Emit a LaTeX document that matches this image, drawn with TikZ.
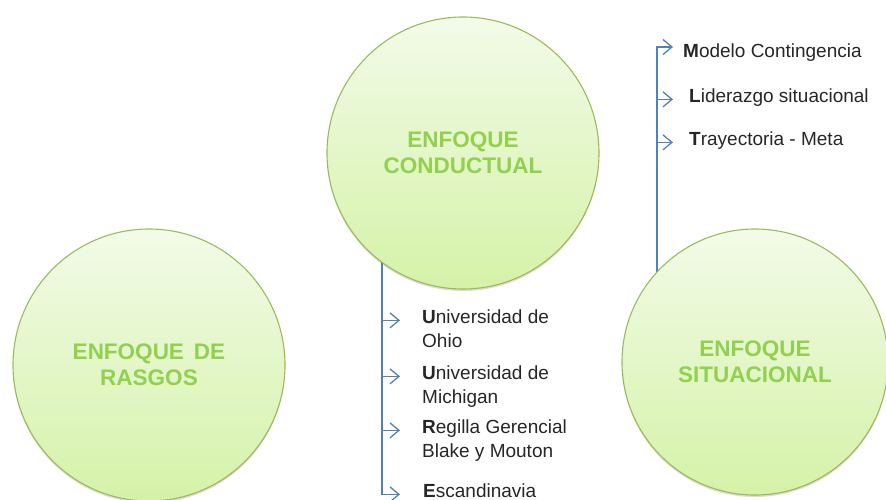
\documentclass[tikz,border=0pt]{standalone}
\usepackage{fontspec}
\setmainfont{Liberation Sans}
\usetikzlibrary{positioning, arrows.meta, shadows, backgrounds}
\definecolor{leafline}{RGB}{155,187,89}
\definecolor{leaftop}{RGB}{242,251,232}
\definecolor{leafbot}{RGB}{213,242,168}
\definecolor{leaftext}{RGB}{146,208,80}
\definecolor{linkblue}{RGB}{79,129,189}
\newcommand{\twolines}[2]{\begin{tabular}[t]{@{}l@{}}#1\\#2\end{tabular}}

\begin{document}
\begin{tikzpicture}[x=1pt, y=-1pt]
        \tikzstyle{enfoque} = [circle, minimum size=272pt, draw=leafline, line width=1.1pt, top color=leaftop, bottom color=leafbot, text=leaftext, font=\fontsize{22.5}{26}\selectfont\bfseries, align=center, drop shadow={shadow xshift=0pt, shadow yshift=-2pt, opacity=0.2, fill=black!70}]
        \tikzstyle{item} = [anchor=base west, inner sep=0pt, text=black!85, font=\fontsize{19}{24}\selectfont]
        \tikzstyle{link} = [draw=linkblue, line width=1.3pt]
        \tikzstyle{arrow} = [link, -{Straight Barb[length=9pt, width=15pt, line width=1.3pt]}]

        \useasboundingbox (0,0) rectangle (886,499);
        \clip (0,0) rectangle (886,499);

        % the three approaches
        \node (ras) [enfoque] at (149,365) {ENFOQUE\, DE\\RASGOS};
        \node (con) [enfoque] at (463,153) {ENFOQUE\\CONDUCTUAL};
        \node (sit) [enfoque, minimum size=266pt] at (755,362) {ENFOQUE\\SITUACIONAL};

        % studies of the behavioural approach
        \node (ohio) [item] at (422,323) {\twolines{\textbf{U}niversidad de}{Ohio}};
        \node (mich) [item] at (422,379) {\twolines{\textbf{U}niversidad de}{Michigan}};
        \node (reji) [item] at (422,433) {\twolines{\textbf{R}egilla Gerencial}{Blake y Mouton}};
        \node (esca) [item] at (423,497) {\textbf{E}scandinavia};

        % models of the situational approach
        \node (cont) [item] at (683,57) {\textbf{M}odelo Contingencia};
        \node (lide) [item] at (689,102) {\textbf{L}iderazgo situacional};
        \node (tray) [item] at (689,145) {\textbf{T}rayectoria - Meta};

        \coordinate (spl) at (382,0);
        \coordinate (stop) at (657,47);

        \begin{scope}[on background layer]
            \draw [arrow, shorten >=23pt] (spl |- con.center) -- (spl |- esca.mid west) -- (esca.mid west);
            \draw [arrow, shorten >=22pt] (spl |- ohio.mid west) -- (ohio.mid west);
            \draw [arrow, shorten >=22pt] (spl |- mich.mid west) -- (mich.mid west);
            \draw [arrow, shorten >=22pt] (spl |- reji.mid west) -- (reji.mid west);

            \draw [arrow, shorten >=10pt] (stop |- sit.center) -- (stop) -- (stop -| cont.west);
            \draw [arrow, shorten >=16pt] (stop |- lide.mid west) -- (lide.mid west);
            \draw [arrow, shorten >=16pt] (stop |- tray.mid west) -- (tray.mid west);
        \end{scope}
    \end{tikzpicture}
\end{document}
